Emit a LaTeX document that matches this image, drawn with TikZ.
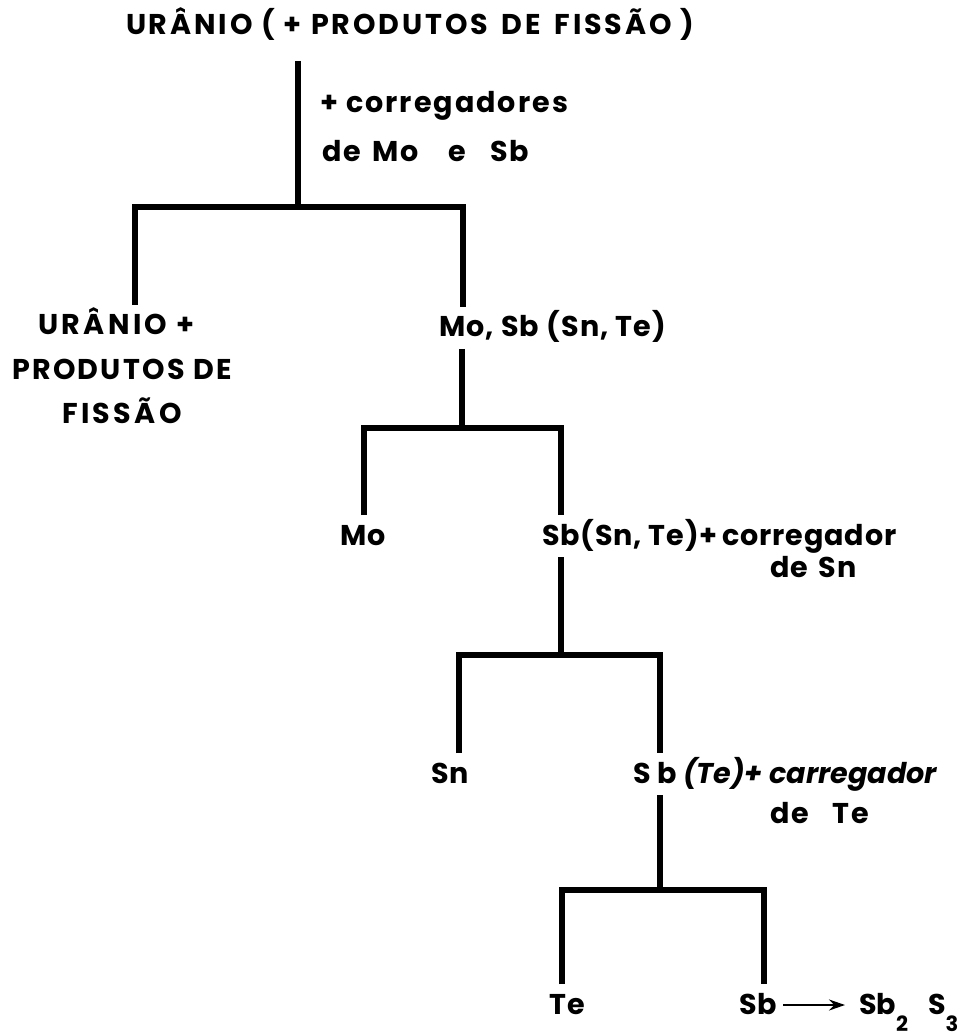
\documentclass[tikz,border=0pt]{standalone}
\usepackage{fontspec}
\setmainfont{Poppins}
\usetikzlibrary{arrows.meta}

\newcommand{\indice}[1]{\raisebox{-8.5pt}{\fontsize{10.5}{12}\selectfont #1}}

\tikzset{
  rotulo/.style={font=\bfseries\fontsize{14.3}{17}\selectfont, inner sep=0pt,
    outer xsep=0pt, outer ysep=4pt, text height=11pt, text depth=2pt, anchor=base west},
  largo/.style={rotulo, font=\bfseries\fontsize{14.3}{17}\selectfont\addfontfeature{LetterSpace=#1}},
  ramo/.style={line width=2.6pt},
  seta/.style={line width=1.1pt, -{Stealth[length=8pt,width=5.5pt]}}
}

\begin{document}
\begin{tikzpicture}[x=0.5pt,y=-0.5pt]
\useasboundingbox (0,0) rectangle (967,1036);

% textos
\node[largo=10] (titulo) at (126,35) {URÂNIO (\hspace{4pt}+\hspace{5pt}PRODUTOS\, DE\, FISSÃO )};
\node[largo=7] (carga1) at (320,113) {+ corregadores};
\node[largo=6] (carga2) at (322,162) {de\hspace{6pt}Mo\hspace{15pt}e\hspace{12pt}Sb};

\node[largo=12] (uran1) at (38,335) {URÂNIO +};
\node[largo=8] (uran2) at (12,380) {PRODUTOS DE};
\node[largo=12] (uran3) at (62,423) {FISSÃO};
\node[largo=4] (mosb) at (439,337) {Mo, Sb (Sn, Te)};

\node[largo=6] (mo) at (340,545) {Mo};
\node[largo=3] (sbsnte) at (542,545) {Sb(Sn, Te)+\,corregador};
\node[largo=5] (desn) at (770,577) {de\hspace{5pt}Sn};

\node[largo=4] (sn) at (431,783) {Sn};
\node[rotulo] (sbte) at (633,783) {S\hspace{3.5pt}b {\itshape (Te)+ carregador}};
\node[largo=6] (dete) at (770,823) {de\hspace{12pt}Te};

\node[largo=4] (te) at (549,1014) {Te};
\node[largo=4] (sb) at (739,1014) {Sb};
\node[rotulo] (sbs) at (859,1014) {Sb\indice{2}\hspace{10pt}S\indice{3}};

% pontos dos ramos
\coordinate (b1) at (298,207);
\coordinate (e1) at (135,207);
\coordinate (d1) at (463,207);
\coordinate (b2) at (462,428);
\coordinate (e2) at (364,428);
\coordinate (d2) at (561,428);
\coordinate (b3) at (561,655);
\coordinate (e3) at (459,655);
\coordinate (d3) at (660,655);
\coordinate (b4) at (660,890);
\coordinate (e4) at (562,890);
\coordinate (d4) at (764,890);

% ramos
\draw[ramo, shorten <=7pt] (titulo.south -| b1) -- (b1);
\draw[ramo] (uran1.north -| e1) -- (e1) -- (d1) -- (mosb.north -| d1);

\draw[ramo] (mosb.south -| b2) -- (b2);
\draw[ramo] (mo.north -| e2) -- (e2) -- (d2) -- (sbsnte.north -| d2);

\draw[ramo] (sbsnte.south -| b3) -- (b3);
\draw[ramo] (sn.north -| e3) -- (e3) -- (d3) -- (sbte.north -| d3);

\draw[ramo] (sbte.south -| b4) -- (b4);
\draw[ramo] (te.north -| e4) -- (e4) -- (d4) -- (sb.north -| d4);

\draw[seta, shorten <=3pt, shorten >=7pt] (sb.east) -- (sbs.west);
\end{tikzpicture}
\end{document}
